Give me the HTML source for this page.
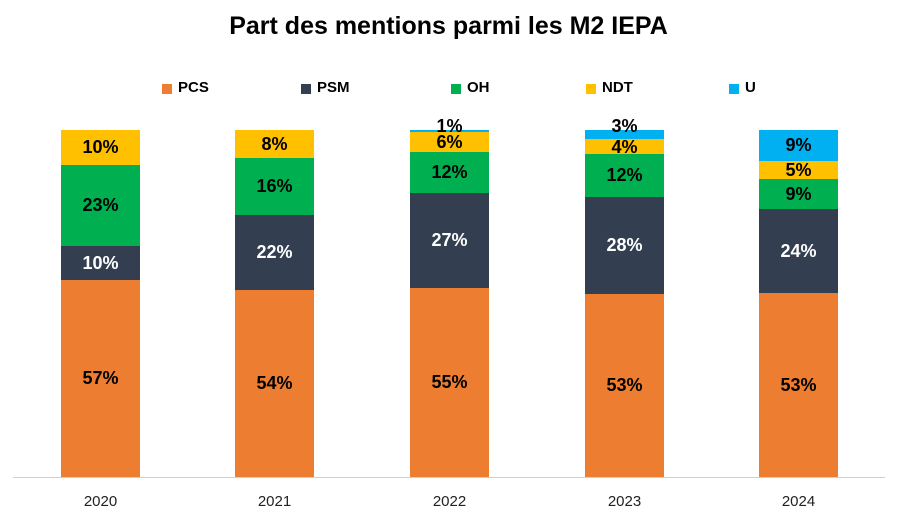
<!DOCTYPE html><html><head><style>
body{margin:0;width:897px;height:517px;background:#fff;font-family:"Liberation Sans",sans-serif;position:relative;overflow:hidden}
.a{position:absolute}
.t{left:0;width:897px;text-align:center;top:12px;font-size:25px;font-weight:bold;color:#000}
.sq{width:10px;height:10px}
.lg{font-size:15px;font-weight:bold;top:79px}
.s{position:absolute;width:79px;display:flex;align-items:center;justify-content:center;font-weight:bold;font-size:18px;color:#000}
.yr{font-size:15px;top:493px;width:79px;text-align:center;color:#222}
</style></head><body>
<div class="a t">Part des mentions parmi les M2 IEPA</div>
<div class="a sq" style="left:162px;top:84px;background:#ED7D31"></div><div class="a lg" style="left:178px">PCS</div>
<div class="a sq" style="left:301px;top:84px;background:#333F50"></div><div class="a lg" style="left:317px">PSM</div>
<div class="a sq" style="left:451px;top:84px;background:#00B050"></div><div class="a lg" style="left:467px">OH</div>
<div class="a sq" style="left:586px;top:84px;background:#FFC000"></div><div class="a lg" style="left:602px">NDT</div>
<div class="a sq" style="left:729px;top:84px;background:#00B0F0"></div><div class="a lg" style="left:745px">U</div>
<div class="a" style="left:13px;top:477px;width:872px;height:1px;background:#d0d0d0"></div>

<div class="s" style="left:61px;top:130px;height:35px;background:#FFC000">10%</div>
<div class="s" style="left:61px;top:165px;height:81px;background:#00B050">23%</div>
<div class="s" style="left:61px;top:246px;height:34px;background:#333F50;color:#fff">10%</div>
<div class="s" style="left:61px;top:280px;height:197px;background:#ED7D31">57%</div>

<div class="s" style="left:235px;top:130px;height:28px;background:#FFC000">8%</div>
<div class="s" style="left:235px;top:158px;height:57px;background:#00B050">16%</div>
<div class="s" style="left:235px;top:215px;height:75px;background:#333F50;color:#fff">22%</div>
<div class="s" style="left:235px;top:290px;height:187px;background:#ED7D31">54%</div>

<div class="s" style="left:410px;top:130px;height:2px;background:#00B0F0"></div>
<div class="s" style="left:410px;top:132px;height:20px;background:#FFC000"></div>
<div class="s" style="left:410px;top:152px;height:41px;background:#00B050">12%</div>
<div class="s" style="left:410px;top:193px;height:95px;background:#333F50;color:#fff">27%</div>
<div class="s" style="left:410px;top:288px;height:189px;background:#ED7D31">55%</div>
<div class="s" style="left:410px;top:116px;height:20px">1%</div>
<div class="s" style="left:410px;top:132px;height:20px">6%</div>

<div class="s" style="left:585px;top:130px;height:9px;background:#00B0F0"></div>
<div class="s" style="left:585px;top:139px;height:15px;background:#FFC000"></div>
<div class="s" style="left:585px;top:154px;height:43px;background:#00B050">12%</div>
<div class="s" style="left:585px;top:197px;height:97px;background:#333F50;color:#fff">28%</div>
<div class="s" style="left:585px;top:294px;height:183px;background:#ED7D31">53%</div>
<div class="s" style="left:585px;top:116px;height:20px">3%</div>
<div class="s" style="left:585px;top:137px;height:20px">4%</div>

<div class="s" style="left:759px;top:130px;height:31px;background:#00B0F0">9%</div>
<div class="s" style="left:759px;top:161px;height:18px;background:#FFC000">5%</div>
<div class="s" style="left:759px;top:179px;height:30px;background:#00B050">9%</div>
<div class="s" style="left:759px;top:209px;height:84px;background:#333F50;color:#fff">24%</div>
<div class="s" style="left:759px;top:293px;height:184px;background:#ED7D31">53%</div>

<div class="a yr" style="left:61px">2020</div>
<div class="a yr" style="left:235px">2021</div>
<div class="a yr" style="left:410px">2022</div>
<div class="a yr" style="left:585px">2023</div>
<div class="a yr" style="left:759px">2024</div>
</body></html>
